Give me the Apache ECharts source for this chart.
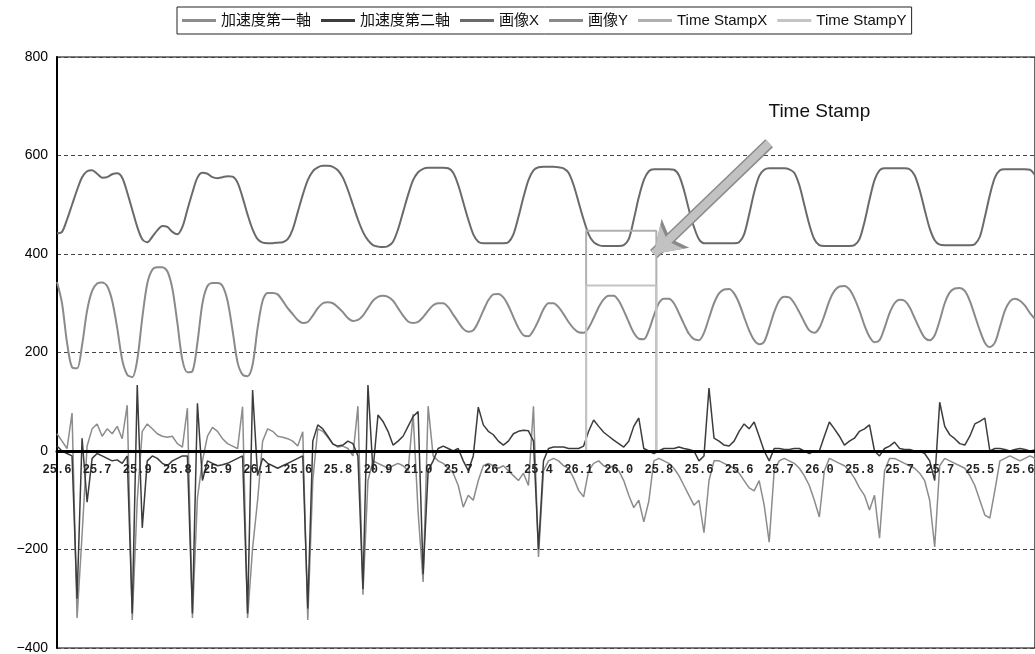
<!DOCTYPE html>
<html>
<head>
<meta charset="utf-8">
<script src="https://cdn.jsdelivr.net/npm/echarts@6/dist/echarts.min.js"></script>
<style>
html,body{margin:0;padding:0;background:#fff;}
#chart{width:1035px;height:654px;}
</style>
</head>
<body>
<div id="chart"></div>
<script>
// x-axis tick labels (one every 8 samples)
const tickLabels = ["25.6","25.7","25.9","25.8","25.9","26.1","25.6","25.8","20.9","21.0","25.7","26.1","25.4","26.1","26.0","25.8","25.6","25.6","25.7","26.0","25.8","25.7","25.7","25.5","25.6"];

const seriesNames = ["加速度第一軸","加速度第二軸","画像X","画像Y","Time StampX","Time StampY"];

const imageX = [442,445,470,500,530,556,568,570,563,555,556,562,564,555,525,490,455,430,424,435,
448,457,455,445,440,455,490,525,555,565,563,556,554,556,558,557,545,515,480,450,
430,423,422,422,423,424,430,450,485,520,550,568,576,579,579,577,570,555,530,500,
470,445,428,418,415,414,416,425,450,485,520,550,566,573,575,575,575,575,574,565,
540,505,470,440,425,422,422,422,422,422,424,440,475,515,550,570,576,577,577,577,
576,574,565,540,505,470,440,424,418,416,416,416,416,418,430,470,515,550,568,572,
572,572,572,571,560,530,490,455,430,422,422,422,422,422,422,422,424,440,480,525,
558,571,574,574,574,574,572,565,540,500,460,430,418,416,416,416,416,416,416,418,
430,465,510,550,570,574,574,574,574,574,572,560,530,490,452,428,419,418,418,418,
418,418,418,420,435,475,520,555,570,572,572,572,572,572,571,560];

const imageY = [343,300,220,170,168,215,285,325,340,342,335,305,250,185,155,150,185,270,340,368,
373,373,365,330,260,185,160,162,220,300,335,341,341,335,305,245,180,155,152,175,
250,305,321,321,318,305,290,278,266,260,262,275,290,300,302,300,292,282,270,264,
266,275,290,305,313,315,313,305,290,275,263,260,262,272,285,296,300,300,292,277,
262,248,242,245,262,285,306,318,319,312,295,272,250,235,233,245,265,288,300,300,
292,278,262,249,241,240,250,270,292,308,315,315,305,285,262,240,228,227,245,275,
300,309,309,300,280,258,238,227,225,240,270,300,320,328,329,320,300,272,245,225,
217,222,250,282,305,313,312,300,282,262,245,240,250,275,305,325,334,335,328,310,
285,255,232,221,225,250,280,300,307,305,292,270,248,230,225,235,265,300,322,330,
331,325,305,275,245,220,211,220,252,285,304,309,305,295,280,268];

const accel1 = [35,20,5,77,-339,-170,10,45,55,30,45,35,50,25,93,-343,-100,40,55,45,
35,30,28,30,15,8,87,-339,-95,-20,30,48,40,25,15,10,5,90,-339,-197,
-100,20,45,40,30,28,25,20,10,39,-343,-60,45,40,28,15,8,10,5,-10,
91,-292,-60,-20,-25,-30,-35,-30,-25,-30,-40,75,-124,-266,91,-10,-20,-25,-35,-45,
-70,-114,-90,-100,-60,-30,-25,-30,-35,-30,-40,-50,-60,-45,-70,91,-215,-40,-20,-15,
-20,-30,-35,-55,-80,-93,-40,-25,-20,-30,-35,-30,-40,-60,-90,-115,-100,-144,-102,-20,
-15,-20,-25,-35,-50,-70,-90,-110,-100,-166,-60,-20,-20,-25,-30,-35,-45,-60,-75,-81,
-60,-110,-185,-40,-20,-15,-20,-25,-35,-50,-70,-100,-134,-40,-15,-20,-25,-30,-40,-55,
-75,-90,-120,-90,-177,-40,-15,-15,-20,-25,-30,-35,-45,-60,-100,-195,-30,-15,-20,-25,
-30,-35,-50,-70,-100,-130,-136,-80,-20,-15,-10,-15,-20,-15,-10,-15];

const accel2 = [10,0,-5,-10,-300,26,-104,-15,-5,-10,-15,-20,-18,-25,-10,-330,134,-156,-20,-10,
-15,-25,-30,-20,-15,-10,-10,-330,97,-60,-20,-25,-30,-28,-25,-20,-15,-10,-330,124,
-50,-15,-25,-30,-35,-30,-25,-20,-15,-10,-320,20,53,45,30,14,10,12,20,15,
-10,-280,134,-40,73,60,40,12,20,30,50,70,80,-250,-40,-20,5,10,5,0,
5,-20,-40,-10,89,53,40,33,20,12,20,35,40,42,41,20,-200,-20,5,8,
8,8,5,5,5,10,40,63,50,38,30,22,15,8,20,50,67,5,0,-5,
0,5,5,5,8,5,3,0,-20,-10,128,26,20,12,10,20,40,55,45,59,
30,0,-20,5,5,3,3,5,5,0,-5,0,0,30,59,45,30,12,20,26,
40,45,53,0,-10,5,10,18,5,3,3,0,0,-5,-20,-60,99,50,33,25,
15,12,30,55,60,67,0,5,5,3,0,3,5,3,0,2];

const stampX = [];
const stampY = [];
for (let i = 0; i < imageX.length; i++) { stampX.push(0); stampY.push(0); }
// marked time-stamp window
const stampStart = 106, stampEnd = 119, stampXLevel = 447, stampYLevel = 336;
for (let i = stampStart; i <= stampEnd; i++) { stampX[i] = stampXLevel; stampY[i] = stampYLevel; }

// annotation arrow (data coordinates: [category index, value])
const arrowFrom = [142, 625], arrowTo = [119, 400];
const annotationAt = [152, 688];

const categories = imageX.map((_, i) => String(i));

const colors = ['#8c8c8c','#3c3c3c','#6a6a6a','#8a8a8a','#b0b0b0','#c4c4c4'];
const FONT = 'Liberation Sans, Arial, Noto Sans CJK JP, sans-serif';

const W = 1035, H = 654;
const GRID = {left: 57, right: 0, top: 57, bottom: 6};
const Y_MIN = -400, Y_MAX = 800;
const gridH = H - GRID.top - GRID.bottom;
// move the category axis (line + labels) up to the zero level
const axisOffset = -gridH * (0 - Y_MIN) / (Y_MAX - Y_MIN);

const chart = echarts.init(document.getElementById('chart'), null, {renderer:'canvas'});
chart.setOption({
  animation: false,
  backgroundColor: '#fff',
  color: colors,
  legend: {
    data: seriesNames,
    left: 177, top: 7,
    padding: [6,5],
    icon: 'rect',
    itemWidth: 34, itemHeight: 3, itemGap: 10,
    borderColor: '#222', borderWidth: 1,
    textStyle: {fontSize: 15, color: '#111', fontFamily: FONT}
  },
  grid: Object.assign({show: true, borderColor: '#000', borderWidth: 1.2, outerBoundsMode: 'none'}, GRID),
  xAxis: {
    type: 'category', data: categories, boundaryGap: false, z: 5,
    position: 'bottom', offset: axisOffset,
    axisLine: {onZero: false, lineStyle: {color: '#000', width: 3}},
    axisTick: {show: false},
    splitLine: {show: false},
    axisLabel: {
      show: true, interval: 7, margin: 13, fontSize: 12, fontWeight: 'bold', color: '#222',
      fontFamily: 'Liberation Mono, DejaVu Sans Mono, monospace',
      formatter: function (value) {
        const i = Number(value);
        return (i % 8 === 0 && tickLabels[i / 8]) ? tickLabels[i / 8] : '';
      }
    }
  },
  yAxis: {
    type: 'value', min: Y_MIN, max: Y_MAX, interval: 200,
    axisLine: {show: true, lineStyle: {color: '#000', width: 2}},
    axisTick: {show: false},
    axisLabel: {fontSize: 14, color: '#000', margin: 9, fontFamily: FONT,
      formatter: v => String(v).replace('-', '\u2212')},
    splitLine: {show: true, lineStyle: {color: '#444', width: 1.2, type: [4,3]}}
  },
  series: [
    {name: seriesNames[0], type: 'line', data: accel1, symbol: 'none', lineStyle: {width: 1.5, color: colors[0]}},
    {name: seriesNames[1], type: 'line', data: accel2, symbol: 'none', lineStyle: {width: 1.5, color: colors[1]}},
    {name: seriesNames[2], type: 'line', data: imageX, symbol: 'none', smooth: 0.3, lineStyle: {width: 2, color: colors[2]}},
    {name: seriesNames[3], type: 'line', data: imageY, symbol: 'none', smooth: 0.3, lineStyle: {width: 2, color: colors[3]}},
    {name: seriesNames[4], type: 'line', data: stampX, symbol: 'none', step: 'middle', lineStyle: {width: 2, color: colors[4]},
      markLine: {
        silent: true, symbol: ['none','arrow'], symbolSize: 30,
        label: {show: false},
        lineStyle: {color: '#8a8a8a', width: 11, type: 'solid'},
        itemStyle: {color: '#8a8a8a'},
        data: [[{coord: arrowFrom}, {coord: arrowTo}]]
      },
      markPoint: {
        silent: true, symbol: 'rect', symbolSize: 1, itemStyle: {color: 'rgba(0,0,0,0)'},
        label: {show: true, position: 'inside', formatter: 'Time Stamp', fontSize: 19, color: '#111', fontFamily: FONT},
        data: [{coord: annotationAt}]
      }
    },
    {name: seriesNames[5], type: 'line', data: stampY, symbol: 'none', step: 'middle', lineStyle: {width: 2, color: colors[5]},
      markLine: {
        silent: true, symbol: ['none','arrow'], symbolSize: 25,
        label: {show: false},
        lineStyle: {color: '#c2c2c2', width: 8, type: 'solid'},
        itemStyle: {color: '#c2c2c2'},
        data: [[{coord: arrowFrom}, {coord: arrowTo}]]
      }
    }
  ]
});
</script>
</body>
</html>
